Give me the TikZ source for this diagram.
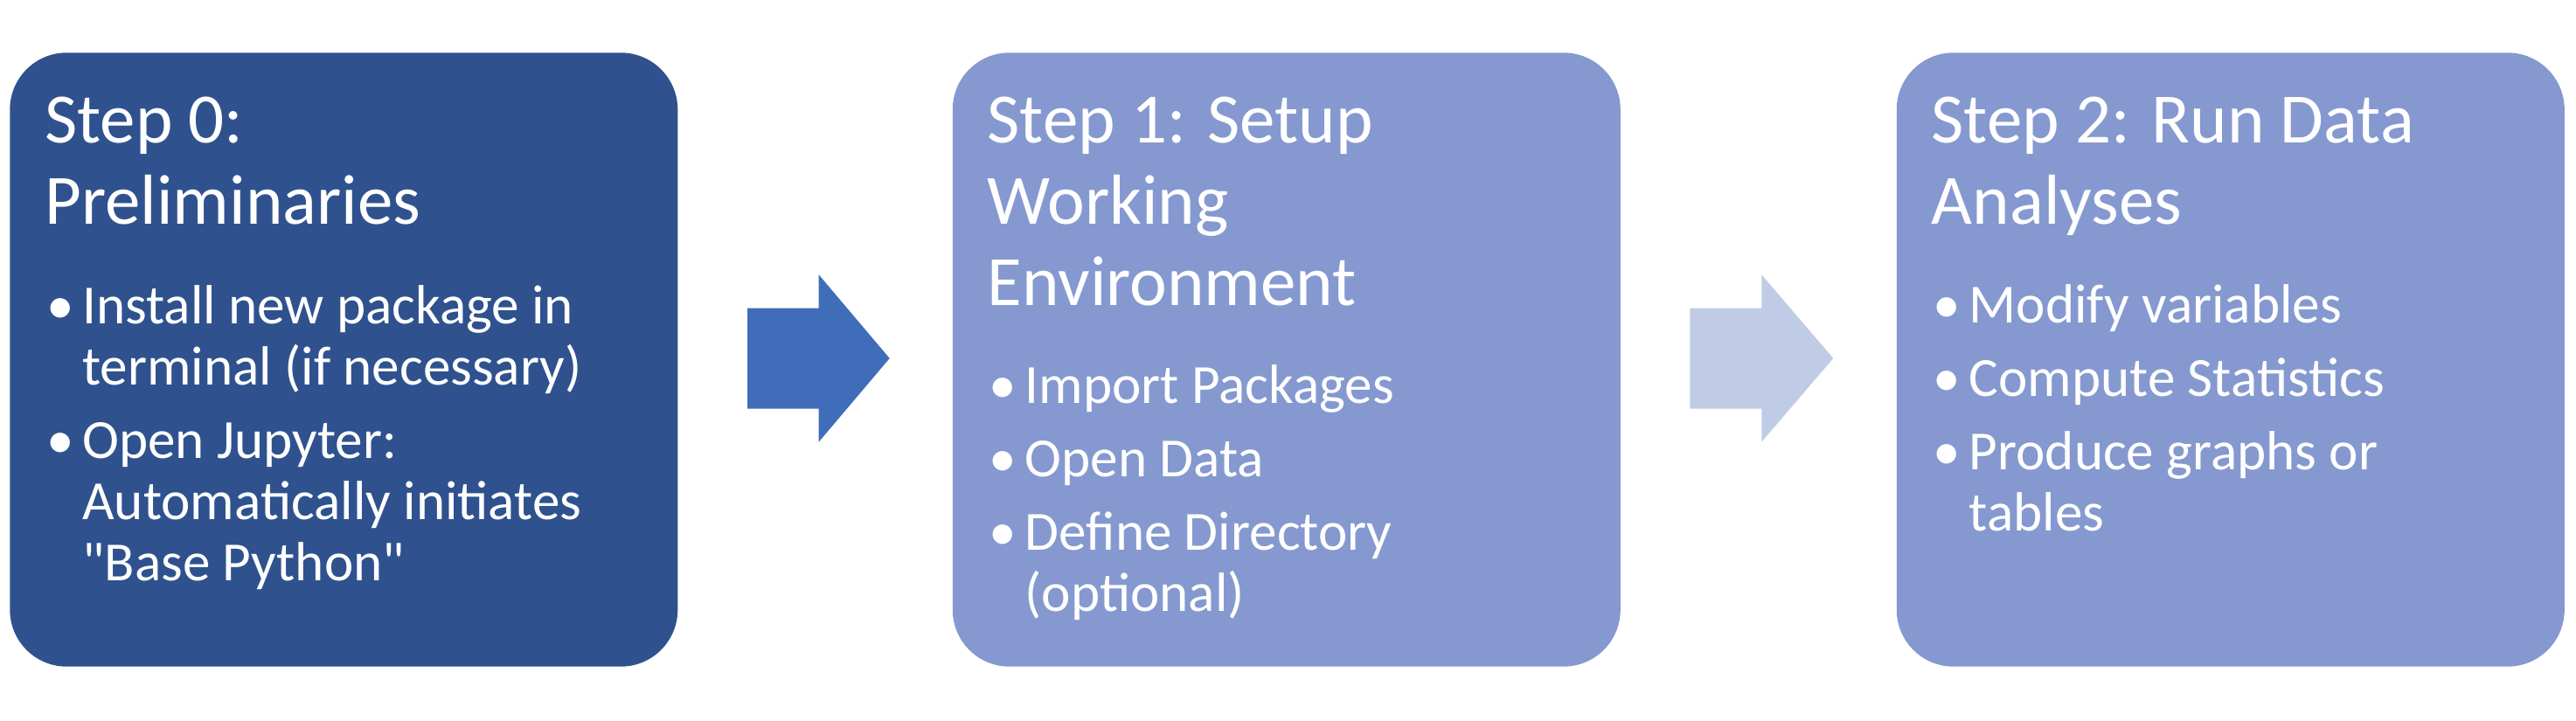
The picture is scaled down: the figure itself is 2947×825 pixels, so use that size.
\documentclass[tikz,border=0pt]{standalone}
\usepackage{fontspec}
\newfontfamily\carlito{Carlito}
\definecolor{stepdark}{HTML}{2F528F}
\definecolor{steplight}{HTML}{8599D0}
\definecolor{arrowdark}{HTML}{406DBA}
\definecolor{arrowlight}{HTML}{C0CBE5}
\newcommand{\bul}{\llap{\makebox[12.6pt][c]{•}}}
\tikzset{
  stepbox/.style={rounded corners=16.25pt, minimum width=191pt, minimum height=175.6pt, inner sep=0pt, anchor=north west, draw=none},
  titletext/.style={anchor=base west, inner sep=0pt, align=left, text=white, font=\carlito\fontsize{20.25}{23.25}\selectfont},
  bodytext/.style={anchor=base west, inner sep=0pt, align=left, text=white, font=\carlito\fontsize{15.8}{17.5}\selectfont}
}
\begin{document}
\begin{tikzpicture}[x=0.25pt, y=-0.25pt]
\useasboundingbox (0,0) rectangle (2947,825);
% boxes
\node (b1) [stepbox, fill=stepdark] at (10.5,59.5) {};
\node (b2) [stepbox, fill=steplight] at (1089,59.5) {};
\node (b3) [stepbox, fill=steplight] at (2169,59.5) {};
% arrows
\fill[arrowdark] (855,352.7) -- (936.7,352.7) -- (936.7,314.3) -- (1017.7,410) -- (936.7,505.7) -- (936.7,467.7) -- (855,467.7) -- cycle;
\fill[arrowlight] (1933.3,352.7) -- (2015.3,352.7) -- (2015.3,314.3) -- (2097.3,410) -- (2015.3,505.7) -- (2015.3,467.7) -- (1933.3,467.7) -- cycle;
% box 1 text (anchored at baseline of last line)
\node (t1) [titletext] at (50.5,256) {Step 0:\\Preliminaries};
\node (l1a) [bodytext] at (93.5,440) {\bul Install new package in\\terminal (if necessary)};
\node (l1b) [bodytext] at (93.5,664) {\bul Open Jupyter:\\Automatically initiates\\"Base Python"};
% box 2 text
\node (t2) [titletext] at (1129,349) {Step 1: Setup\\Working\\Environment};
\node (l2a) [bodytext] at (1172,461) {\bul Import Packages};
\node (l2b) [bodytext] at (1172,545) {\bul Open Data};
\node (l2c) [bodytext] at (1172,699) {\bul Define Directory\\(optional)};
% box 3 text
\node (t3) [titletext] at (2209,256) {Step 2: Run Data\\Analyses};
\node (l3a) [bodytext] at (2252,369) {\bul Modify variables};
\node (l3b) [bodytext] at (2252,453) {\bul Compute Statistics};
\node (l3c) [bodytext] at (2252,607) {\bul Produce graphs or\\tables};
\end{tikzpicture}
\end{document}
